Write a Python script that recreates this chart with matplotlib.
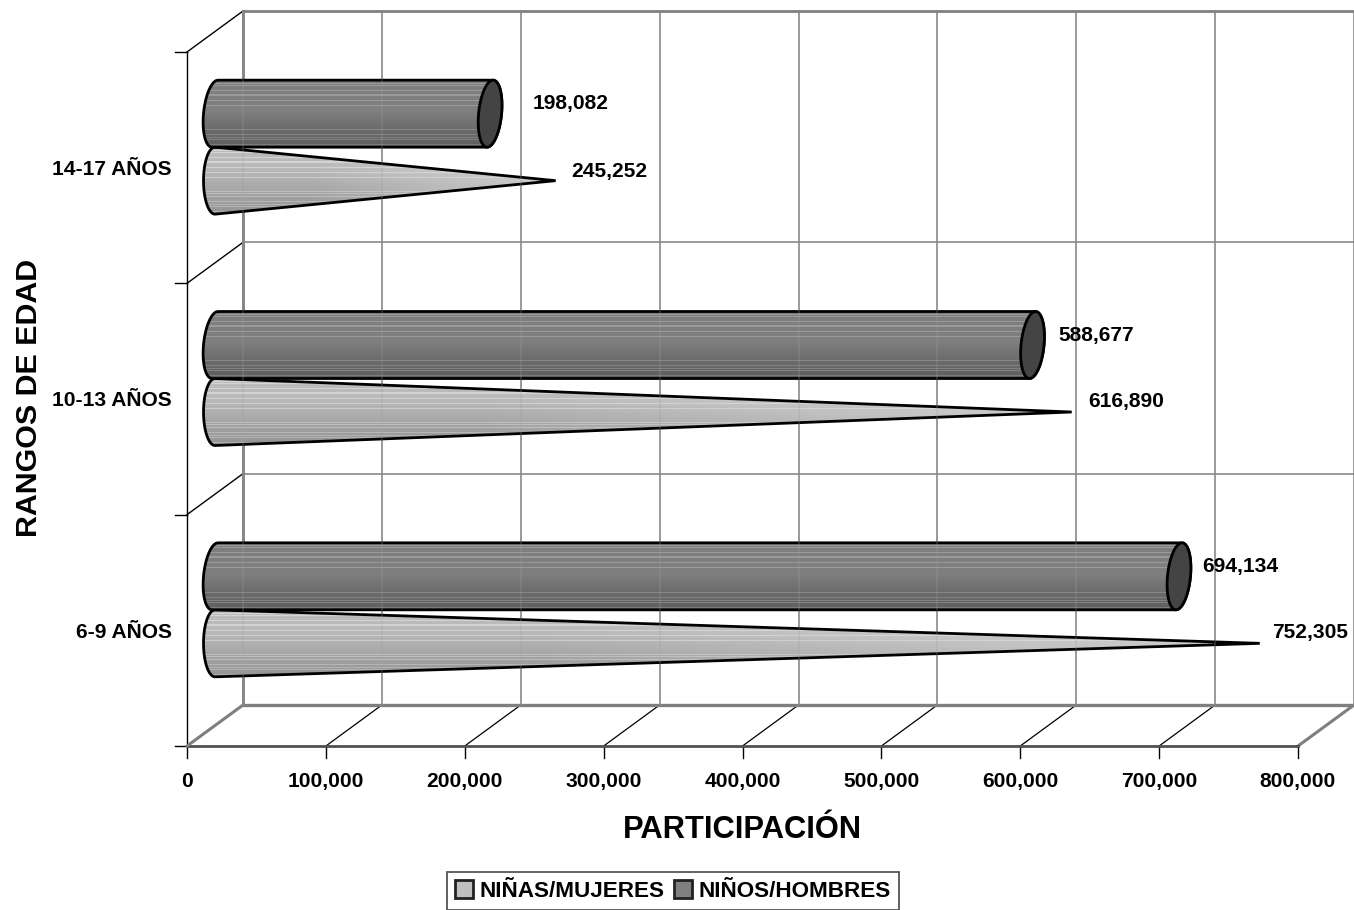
import numpy as np
import matplotlib
matplotlib.use("Agg")
import matplotlib.pyplot as plt
from matplotlib.patches import PathPatch
from matplotlib.path import Path

categories = ["6-9 AÑOS", "10-13 AÑOS", "14-17 AÑOS"]
ninas = [752305, 616890, 245252]
ninos = [694134, 588677, 198082]
xticks = [0, 100000, 200000, 300000, 400000, 500000, 600000, 700000, 800000]

plt.rcParams['font.family'] = ['Liberation Sans', 'DejaVu Sans']
plt.rcParams['font.weight'] = 'bold'

W, H = 1354, 910
L, R, T, B = 187, 1298, 52, 746
fig = plt.figure(figsize=(W/100, H/100), dpi=100, facecolor='white')
ax = fig.add_axes([L/W, 1-B/H, (R-L)/W, (B-T)/H])
XMAX, YMAX = 800000, 3
ax.set_xlim(0, XMAX)
ax.set_ylim(0, YMAX)
ax.patch.set_visible(False)
for s in ax.spines.values():
    s.set_visible(False)

ux = XMAX/(R-L)      # data units per pixel
uy = YMAX/(B-T)
DX, DY = 56*ux, 41*uy  # depth of the 3D box
GRID = '#7f7f7f'

# Back wall and floor
for v in xticks:
    ax.plot([v+DX, v+DX], [DY, YMAX+DY], color=GRID, lw=1.1, clip_on=False, zorder=1)
    ax.plot([v, v+DX], [0, DY], color='black', lw=0.9, clip_on=False, zorder=1)
    ax.plot([v, v], [0, -12*uy], color='black', lw=1.0, clip_on=False, zorder=1)
for c in range(1, 3):
    ax.plot([DX, XMAX+DX], [c+DY, c+DY], color=GRID, lw=1.1, clip_on=False, zorder=1)
for c in range(1, 4):
    ax.plot([0, DX], [c, c+DY], color='black', lw=1.0, clip_on=False, zorder=1)
for c in range(0, 4):
    ax.plot([0, -12*ux], [c, c], color='black', lw=1.0, clip_on=False, zorder=1)
ax.plot([DX, DX], [DY, YMAX+DY], color=GRID, lw=2, clip_on=False, zorder=1)
ax.plot([DX, XMAX+DX], [YMAX+DY, YMAX+DY], color=GRID, lw=2, clip_on=False, zorder=1)
ax.plot([DX, XMAX+DX], [DY, DY], color=GRID, lw=2.4, clip_on=False, zorder=1)
ax.plot([0, DX], [0, DY], color=GRID, lw=2.2, clip_on=False, zorder=1.1)
ax.plot([XMAX, XMAX+DX], [0, DY], color=GRID, lw=2.2, clip_on=False, zorder=1)
ax.plot([0, XMAX], [0, 0], color='#505050', lw=2, clip_on=False, zorder=1)
ax.plot([0, 0], [0, YMAX], color='black', lw=1.0, clip_on=False, zorder=1)


def stripes(n, base, amp, skip=(1, 1)):
    """Vertical shading with the thin light bands of the original fill."""
    t = np.linspace(0, 1, n)
    g = np.interp(t, base[0], base[1])
    for i in range(n):
        if skip[0] < t[i] < skip[1]:
            continue
        if i % 5 == 0 or i % 11 == 3:
            g[i] += amp
    return np.clip(g, 0, 1)


HALF = 0.5*67*uy      # half thickness of a bar
BW = 11.5*ux          # half width of the end ellipses
SHEAR = 3*ux/HALF     # slight tilt of the cylinder ends
x0 = DX/2
offset = 33.5*uy


def gradient(patch_path, x1, x2, y1, y2, g, z):
    arr = np.repeat(g[:, None], 2, axis=1)
    im = ax.imshow(arr, cmap='gray', vmin=0, vmax=1, aspect='auto',
                   extent=[x1, x2, y1, y2], origin='upper',
                   interpolation='nearest', zorder=z)
    p = PathPatch(patch_path, transform=ax.transData, fc='none', ec='none')
    ax.add_patch(p)
    im.set_clip_path(p)


def arc(xc, yc, a1, a2, shear=0.0, n=40):
    a = np.linspace(a1, a2, n)
    y = yc+HALF*np.sin(a)
    return np.column_stack([xc+BW*np.cos(a)+shear*(y-yc), y])


dark_g = stripes(68, ([0, .45, .75, 1], [.49, .50, .42, .37]), .11, (.42, .72))
light_g = stripes(68, ([0, .35, .7, 1], [.74, .72, .64, .58]), .10, (.45, .62))

for i in range(3):
    yc = i + 0.5 + DY/2

    # Cone (niñas)
    v = ninas[i]
    cy = yc - offset
    left = arc(x0, cy, np.pi/2, 3*np.pi/2)
    path = Path(np.vstack([left, [(x0+v, cy)], left[:1]]))
    gradient(path, x0-BW, x0+v, cy-HALF, cy+HALF, light_g, 3)
    rgba = np.ones((1, 256, 4))*0.88
    rgba[..., 3] = np.clip((np.linspace(0, 1, 256)-0.3)*0.9, 0, .6)
    im2 = ax.imshow(rgba, aspect='auto', extent=[x0-BW, x0+v, cy-HALF, cy+HALF], zorder=3.1)
    p2 = PathPatch(path, transform=ax.transData, fc='none', ec='none')
    ax.add_patch(p2)
    im2.set_clip_path(p2)
    ax.add_patch(PathPatch(path, fc='none', ec='black', lw=2, zorder=3.2, clip_on=False))

    # Cylinder (niños)
    v = ninos[i]
    cy = yc + offset
    lft = arc(x0, cy, np.pi/2, 3*np.pi/2, SHEAR)
    rgt = arc(x0+v, cy, -np.pi/2, np.pi/2, SHEAR)
    path = Path(np.vstack([lft, rgt, lft[:1]]))
    gradient(path, x0-BW-3*ux, x0+v+BW+3*ux, cy-HALF, cy+HALF, dark_g, 4)
    ax.add_patch(PathPatch(path, fc='none', ec='black', lw=2, zorder=4.1, clip_on=False))
    cap = Path(arc(x0+v, cy, 0, 2*np.pi, SHEAR, 80))
    ax.add_patch(PathPatch(cap, fc='#444444', ec='black', lw=2, zorder=4.2, clip_on=False))

# Gridlines show faintly through the bars
for v in xticks:
    ax.plot([v+DX, v+DX], [DY, YMAX+DY], color='#a0a0a0', lw=1.1, alpha=.3, clip_on=False, zorder=4.15)

ax.set_xlim(0, XMAX)
ax.set_ylim(0, YMAX)

# Value labels, with the offsets (px) of the original placement
FS = 15.1
ninas_off = [(12, 11), (17, 11), (16, 9)]
ninos_off = [(23, 10), (26, 10), (43, 10)]
for i in range(3):
    yc = i + 0.5 + DY/2
    ax.annotate(f"{ninas[i]:,}", (x0+ninas[i], yc-offset), xytext=ninas_off[i], textcoords='offset pixels',
                ha='left', va='center', fontsize=FS, fontweight='bold', zorder=6, annotation_clip=False)
    ax.annotate(f"{ninos[i]:,}", (x0+ninos[i], yc+offset), xytext=ninos_off[i], textcoords='offset pixels',
                ha='left', va='center', fontsize=FS, fontweight='bold', zorder=6, annotation_clip=False)

# Axes
ax.set_xticks(xticks)
ax.set_xticklabels([f"{v:,}" for v in xticks], fontsize=FS, fontweight='bold')
ax.set_yticks([i+0.5 for i in range(3)])
ax.set_yticklabels(categories, fontsize=FS, fontweight='bold')
ax.tick_params(axis='both', length=0)
ax.tick_params(axis='x', pad=18.5)
ax.tick_params(axis='y', pad=11)
ax.set_xlabel("PARTICIPACIÓN", fontsize=22.2, fontweight='bold', labelpad=17.5)
fig.text(29/W, 1-398/H, "RANGOS DE EDAD", rotation=90, ha='center', va='center',
         fontsize=21.9, fontweight='bold')

# Legend
leg_h = [plt.Rectangle((0, 0), 1, 1, fc='#c0c0c0', ec='#222222', lw=2),
         plt.Rectangle((0, 0), 1, 1, fc='#808080', ec='#222222', lw=2)]
leg = fig.legend(leg_h, ["NIÑAS/MUJERES", "NIÑOS/HOMBRES"], ncol=2, loc='center',
                 bbox_to_anchor=(673/W, 1-891/H), frameon=True, fancybox=False,
                 edgecolor='#555555', framealpha=1, borderpad=0.38, handlelength=0.8,
                 handleheight=0.8, handletextpad=0.26, columnspacing=0.45,
                 prop={'weight': 'bold', 'size': 16.2})
leg.get_frame().set_linewidth(1.3)

fig.savefig("out.png", dpi=100, facecolor='white')
